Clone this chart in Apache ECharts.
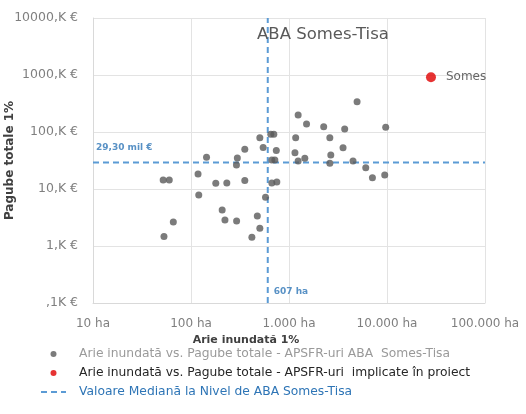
<!DOCTYPE html>
<html><head><meta charset="utf-8">
<script src="https://cdn.jsdelivr.net/npm/echarts@6/dist/echarts.min.js"></script>
<style>html,body{margin:0;padding:0;background:#fff}#c{width:526px;height:414px}</style>
</head><body><div id="c"></div>
<script>
// Gray series: APSFR-uri ABA Somes-Tisa [arie ha, pagube K€]
const aria = [52,60,118,120,66,53,144,179,232,354,208,222,292,475,504,418,297,291,354,504,652,700,545,742,668,717,668,751,576,4950,1240,1510,2260,3700,9700,1170,2610,1150,3560,2670,1450,1240,2610,4500,6070,7100,9480];
const pagube = [14.4,14.4,18.3,7.85,2.64,1.47,36,12.6,12.8,14.1,4.28,2.86,2.75,3.36,2.04,1.42,35,26.4,49.7,79.4,91,91,53.5,47.3,32.3,32.3,12.8,13.3,7.15,340,199,138,124,113,121,79.4,79.4,43.4,53,39.5,34.6,31,28.2,31,23.6,15.8,17.6];
// Red series: APSFR-uri implicate in proiect
const proiectNume = ['Somes'];
const proiectArie = [28100];
const proiectPagube = [912];
// Median values
const medianArie = 607;
const medianPagube = 29.3;
const medianArieLabel = '607 ha';
const medianPagubeLabel = '29,30 mil €';
// Axis ticks
const xTickValues = [10,100,1000,10000,100000];
const xTickLabels = ['10 ha','100 ha','1.000 ha','10.000 ha','100.000 ha'];
const yTickValues = [0.1,1,10,100,1000,10000];
const yTickLabels = [',1K €','1,K €','10,K €','100,K €','1000,K €','10000,K €'];
const seriesNames = ['Arie inundată vs. Pagube totale - APSFR-uri ABA  Somes-Tisa','Arie inundată vs. Pagube totale - APSFR-uri  implicate în proiect','Valoare Mediană la Nivel de ABA Somes-Tisa'];
const titleText = 'ABA Somes-Tisa';

const FONT = '"DejaVu Sans", sans-serif';
function lab(vals, labels, v){
  let best=0, bd=1e9;
  vals.forEach((t,i)=>{const d=Math.abs(Math.log10(t)-Math.log10(v)); if(d<bd){bd=d;best=i;}});
  return labels[best];
}
const chart = echarts.init(document.getElementById('c'), null, {renderer:'canvas'});
const xMin = xTickValues[0], xMax = xTickValues[xTickValues.length-1];
const yMin = yTickValues[0], yMax = yTickValues[yTickValues.length-1];
const medianStyle = {color:'#5b9bd5', width:2, type:[6,4]};
chart.setOption({
  animation:false,
  textStyle:{fontFamily:FONT},
  title:{text:titleText, left:318, top:21, textAlign:'center',
    textStyle:{fontSize:16.5, fontWeight:'normal', color:'#595959', fontFamily:FONT}},
  grid:{left:93, right:41, top:18, bottom:111, containLabel:false, outerBoundsMode:'none'},
  xAxis:{type:'log', logBase:10, min:xMin, max:xMax,
    name:'Arie inundată 1%', nameLocation:'middle', nameGap:32, nameMoveOverlap:false,
    nameTextStyle:{fontSize:11, fontWeight:'bold', color:'#404040', padding:[0,86,0,0]},
    axisLine:{show:true, lineStyle:{color:'#d9d9d9'}}, axisTick:{show:false},
    splitLine:{show:true, lineStyle:{color:'#e3e3e3'}},
    axisLabel:{margin:15, fontSize:12, color:'#7f7f7f', formatter:v=>lab(xTickValues,xTickLabels,v), showMinLabel:true, showMaxLabel:true}},
  yAxis:{type:'log', logBase:10, min:yMin, max:yMax,
    name:'Pagube totale 1%', nameLocation:'middle', nameGap:77, nameRotate:90, nameMoveOverlap:false,
    nameTextStyle:{fontSize:12, fontWeight:'bold', color:'#404040'},
    axisLine:{show:true, lineStyle:{color:'#d9d9d9'}}, axisTick:{show:false},
    splitLine:{show:true, lineStyle:{color:'#e3e3e3'}},
    axisLabel:{margin:15, fontSize:12.5, color:'#7f7f7f', formatter:v=>lab(yTickValues,yTickLabels,v)}},
  legend:{orient:'vertical', left:35, top:342, itemWidth:25, itemHeight:6, itemGap:5,
    textStyle:{fontSize:12.3, lineHeight:14, padding:[0,0,0,8]},
    data:[
      {name:seriesNames[0], textStyle:{color:'#9a9a9a'}},
      {name:seriesNames[1], textStyle:{color:'#262626'}},
      {name:seriesNames[2], itemStyle:{opacity:0}, textStyle:{color:'#2e75b6'}}
    ]},
  series:[
    {name:seriesNames[2], type:'line', symbol:'none', lineStyle:medianStyle, itemStyle:{color:'#5b9bd5'}, z:1,
      data:[[xMin, medianPagube],[xMax, medianPagube]]},
    {name:seriesNames[2], type:'line', symbol:'none', lineStyle:medianStyle, itemStyle:{color:'#5b9bd5'}, z:1,
      data:[[medianArie, yMin],[medianArie, yMax]]},
    {name:'median-labels', type:'scatter', symbolSize:0, z:2, silent:true,
      label:{show:true, fontSize:9, fontWeight:'bold', color:'#2e75b6'},
      data:[
        {value:[xMin, medianPagube], label:{formatter:medianPagubeLabel, position:[3,-19]}},
        {value:[medianArie, yMin], label:{formatter:medianArieLabel, position:[6,-16]}}
      ]},
    {name:seriesNames[0], type:'scatter', symbol:'circle', symbolSize:7, z:3,
      itemStyle:{color:'#5a5a5a'},
      data:aria.map((a,i)=>[a,pagube[i]])},
    {name:seriesNames[1], type:'scatter', symbol:'circle', symbolSize:10, z:4,
      itemStyle:{color:'#e00000'},
      label:{show:true, position:'right', distance:10, fontSize:12, color:'#404040', formatter:p=>proiectNume[p.dataIndex]},
      data:proiectArie.map((a,i)=>[a,proiectPagube[i]])}
  ]
});
</script></body></html>
